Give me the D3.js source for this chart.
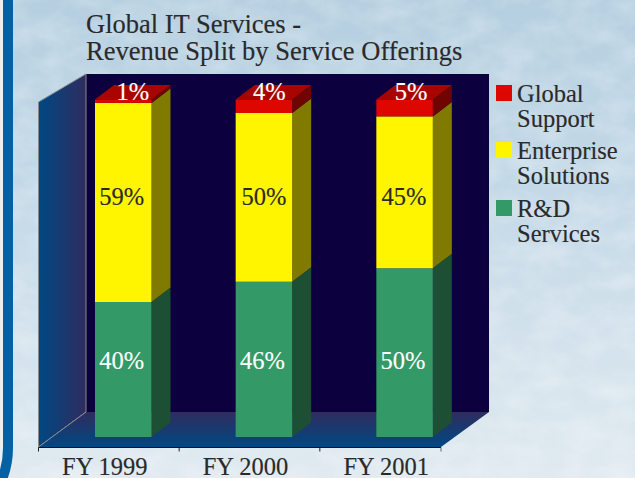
<!DOCTYPE html>
<html>
<head>
<meta charset="utf-8">
<script src="https://d3js.org/d3.v7.min.js"></script>
<style>
  html, body { margin: 0; padding: 0; overflow: hidden; }
  text { font-family: "Liberation Serif", serif; stroke-width: 0.15; }
</style>
</head>
<body>
<script>
var categories = ["FY 1999", "FY 2000", "FY 2001"];
var rdValues = [40, 46, 50];
var enterpriseValues = [59, 50, 45];
var supportValues = [1, 4, 5];
var titleLines = ["Global IT Services -", "Revenue Split by Service Offerings"];
var legendLines = [["Global", "Support"], ["Enterprise", "Solutions"], ["R&D", "Services"]];

var width = 635, height = 478;
var depthX = 19, depthY = 14.5;

var svg = d3.select("body").append("svg")
    .attr("width", width)
    .attr("height", height)
    .style("display", "block");

var defs = svg.append("defs");

// sky background
var sky = defs.append("linearGradient").attr("id", "sky")
    .attr("x1", 0).attr("y1", 0).attr("x2", 0).attr("y2", 1);
sky.append("stop").attr("offset", "0%").attr("stop-color", "#b5cfe0");
sky.append("stop").attr("offset", "45%").attr("stop-color", "#c6dae8");
sky.append("stop").attr("offset", "100%").attr("stop-color", "#e0eaf0");

var cloud = defs.append("filter").attr("id", "cloud")
    .attr("x", 0).attr("y", 0).attr("width", "100%").attr("height", "100%");
cloud.append("feTurbulence")
    .attr("type", "fractalNoise")
    .attr("baseFrequency", "0.03 0.045")
    .attr("numOctaves", 4)
    .attr("seed", 11);
cloud.append("feColorMatrix").attr("values",
    "0 0 0 0 1  0 0 0 0 1  0 0 0 0 1  1.5 0 0 0 -0.5");

var wallGrad = defs.append("linearGradient").attr("id", "wall")
    .attr("x1", 0).attr("y1", 0).attr("x2", 1).attr("y2", 0);
wallGrad.append("stop").attr("offset", "0%").attr("stop-color", "#004883");
wallGrad.append("stop").attr("offset", "100%").attr("stop-color", "#2f2c5e");

var floorGrad = defs.append("linearGradient").attr("id", "floor")
    .attr("x1", 0).attr("y1", 1).attr("x2", 0).attr("y2", 0);
floorGrad.append("stop").attr("offset", "0%").attr("stop-color", "#004883");
floorGrad.append("stop").attr("offset", "100%").attr("stop-color", "#2f2c5e");

svg.append("rect").attr("width", width).attr("height", height).attr("fill", "url(#sky)");
svg.append("rect").attr("width", width).attr("height", height)
    .attr("filter", "url(#cloud)").attr("opacity", 0.32);

// blue frame on the left
svg.append("rect").attr("width", 3).attr("height", height).attr("fill", "#e9eff3");
svg.append("path")
    .attr("d", "M8,-5V448Q8,468 -1,486")
    .attr("fill", "none")
    .attr("stroke", "#0560a4")
    .attr("stroke-width", 10);

// scales
var x = d3.scaleBand().domain(categories).range([38.5, 460.5]);
var y = d3.scaleLinear().domain([0, 100]).range([437, 99.5]);
var barOffset = 56.5, barWidth = 56.5;

var frontY = 447, backX = 86, backRight = 489, backTop = 74, backBottom = 412, frontRight = 441;

// walls
svg.append("rect")
    .attr("x", backX).attr("y", backTop)
    .attr("width", backRight - backX).attr("height", backBottom - backTop)
    .attr("fill", "#0c003f");
svg.append("path")
    .attr("d", d3.line()([[38.5, 102], [backX, backTop], [backX, backBottom], [38.5, frontY]]) + "Z")
    .attr("fill", "url(#wall)")
    .attr("stroke", "#8a8a8a");
svg.append("path")
    .attr("d", d3.line()([[backX, backBottom], [backRight, backBottom], [frontRight, frontY], [38.5, frontY]]) + "Z")
    .attr("fill", "url(#floor)");
svg.append("path")
    .attr("d", d3.line()([[backX, backBottom], [38.5, frontY]]))
    .attr("stroke", "#8a8a8a").attr("fill", "none");

// stacked bars
var stackRows = categories.map(function(c, i) {
  return { cat: c, rd: rdValues[i], ent: enterpriseValues[i], sup: supportValues[i] };
});
var stacked = d3.stack().keys(["rd", "ent", "sup"])(stackRows);

// label baselines are fixed per layer in the original, not centred on the segment
var colors = {
  rd: { front: "#339966", side: "#1c4f33", label: "#ffffff", baseline: 369, shift: [-1.5, -1.5, -1.5] },
  ent: { front: "#fff500", side: "#807a00", label: "#2a2a2a", baseline: 205, shift: [-1.5, 0, -0.5] },
  sup: { front: "#de0700", side: "#6f0400", top: "#a80500", label: "#ffffff", baseline: 100, shift: [9.5, 5.5, 6.5] }
};

function poly(points) { return d3.line()(points) + "Z"; }

stacked.forEach(function(layer) {
  var c = colors[layer.key];
  var g = svg.append("g");
  layer.forEach(function(d) {
    var left = x(d.data.cat) + barOffset, right = left + barWidth;
    var y0 = y(d[0]), y1 = y(d[1]);
    g.append("path")
      .attr("d", poly([[right, y0], [right + depthX, y0 - depthY], [right + depthX, y1 - depthY], [right, y1]]))
      .attr("fill", c.side);
    if (layer.key === "sup") {
      g.append("path")
        .attr("d", poly([[left, y1], [left + depthX, y1 - depthY], [right + depthX, y1 - depthY], [right, y1]]))
        .attr("fill", c.top);
    }
    g.append("rect")
      .attr("x", left).attr("y", y1)
      .attr("width", barWidth).attr("height", y0 - y1)
      .attr("fill", c.front);
  });
});

// value labels
stacked.forEach(function(layer) {
  var c = colors[layer.key];
  svg.append("g").selectAll("text").data(layer).enter().append("text")
    .attr("x", function(d, i) { return x(d.data.cat) + barOffset + barWidth / 2 + c.shift[i]; })
    .attr("y", c.baseline)
    .attr("text-anchor", "middle")
    .attr("font-size", 24.5)
    .attr("fill", c.label)
    .attr("stroke", c.label)
    .text(function(d) { return (d[1] - d[0]) + "%"; });
});

// axis
var axis = svg.append("g")
    .attr("transform", "translate(0," + (frontY + 0.5) + ")")
    .call(d3.axisBottom(x).tickSize(0).tickPadding(15));
axis.select(".domain").remove();
axis.selectAll("text")
    .attr("font-size", 24.5)
    .attr("fill", "#2a2a2a")
    .attr("stroke", "#2a2a2a")
    .attr("font-family", "Liberation Serif")
    .attr("dx", -4)
    .attr("dy", "0.5em");
axis.append("line").attr("x1", 38.5).attr("x2", frontRight).attr("stroke", "#111");
axis.selectAll(".sep").data(categories).enter().append("line")
    .attr("class", "sep")
    .attr("x1", function(d) { return x(d); })
    .attr("x2", function(d) { return x(d); })
    .attr("y2", 4)
    .attr("stroke", "#222");
axis.append("line").attr("x1", frontRight).attr("x2", frontRight).attr("y2", 4).attr("stroke", "#666");

// title
svg.append("g").selectAll("text").data(titleLines).enter().append("text")
    .attr("x", 86)
    .attr("y", function(d, i) { return 33 + i * 27; })
    .attr("font-size", 26.5)
    .attr("fill", "#2a2a2a")
    .attr("stroke", "#2a2a2a")
    .text(function(d) { return d; });

// legend
var legendColors = [colors.sup.front, colors.ent.front, colors.rd.front];
var legendTop = [85, 142, 200];
var legend = svg.append("g").selectAll("g").data(legendLines).enter().append("g")
    .attr("transform", function(d, i) { return "translate(496," + legendTop[i] + ")"; });
legend.append("rect")
    .attr("width", 16).attr("height", 16)
    .attr("fill", function(d, i) { return legendColors[i]; });
legend.selectAll("text").data(function(d) { return d; }).enter().append("text")
    .attr("x", 21)
    .attr("y", function(d, i) { return 16.5 + i * 25; })
    .attr("font-size", 24.5)
    .attr("fill", "#2a2a2a")
    .attr("stroke", "#2a2a2a")
    .text(function(d) { return d; });
</script>
</body>
</html>
